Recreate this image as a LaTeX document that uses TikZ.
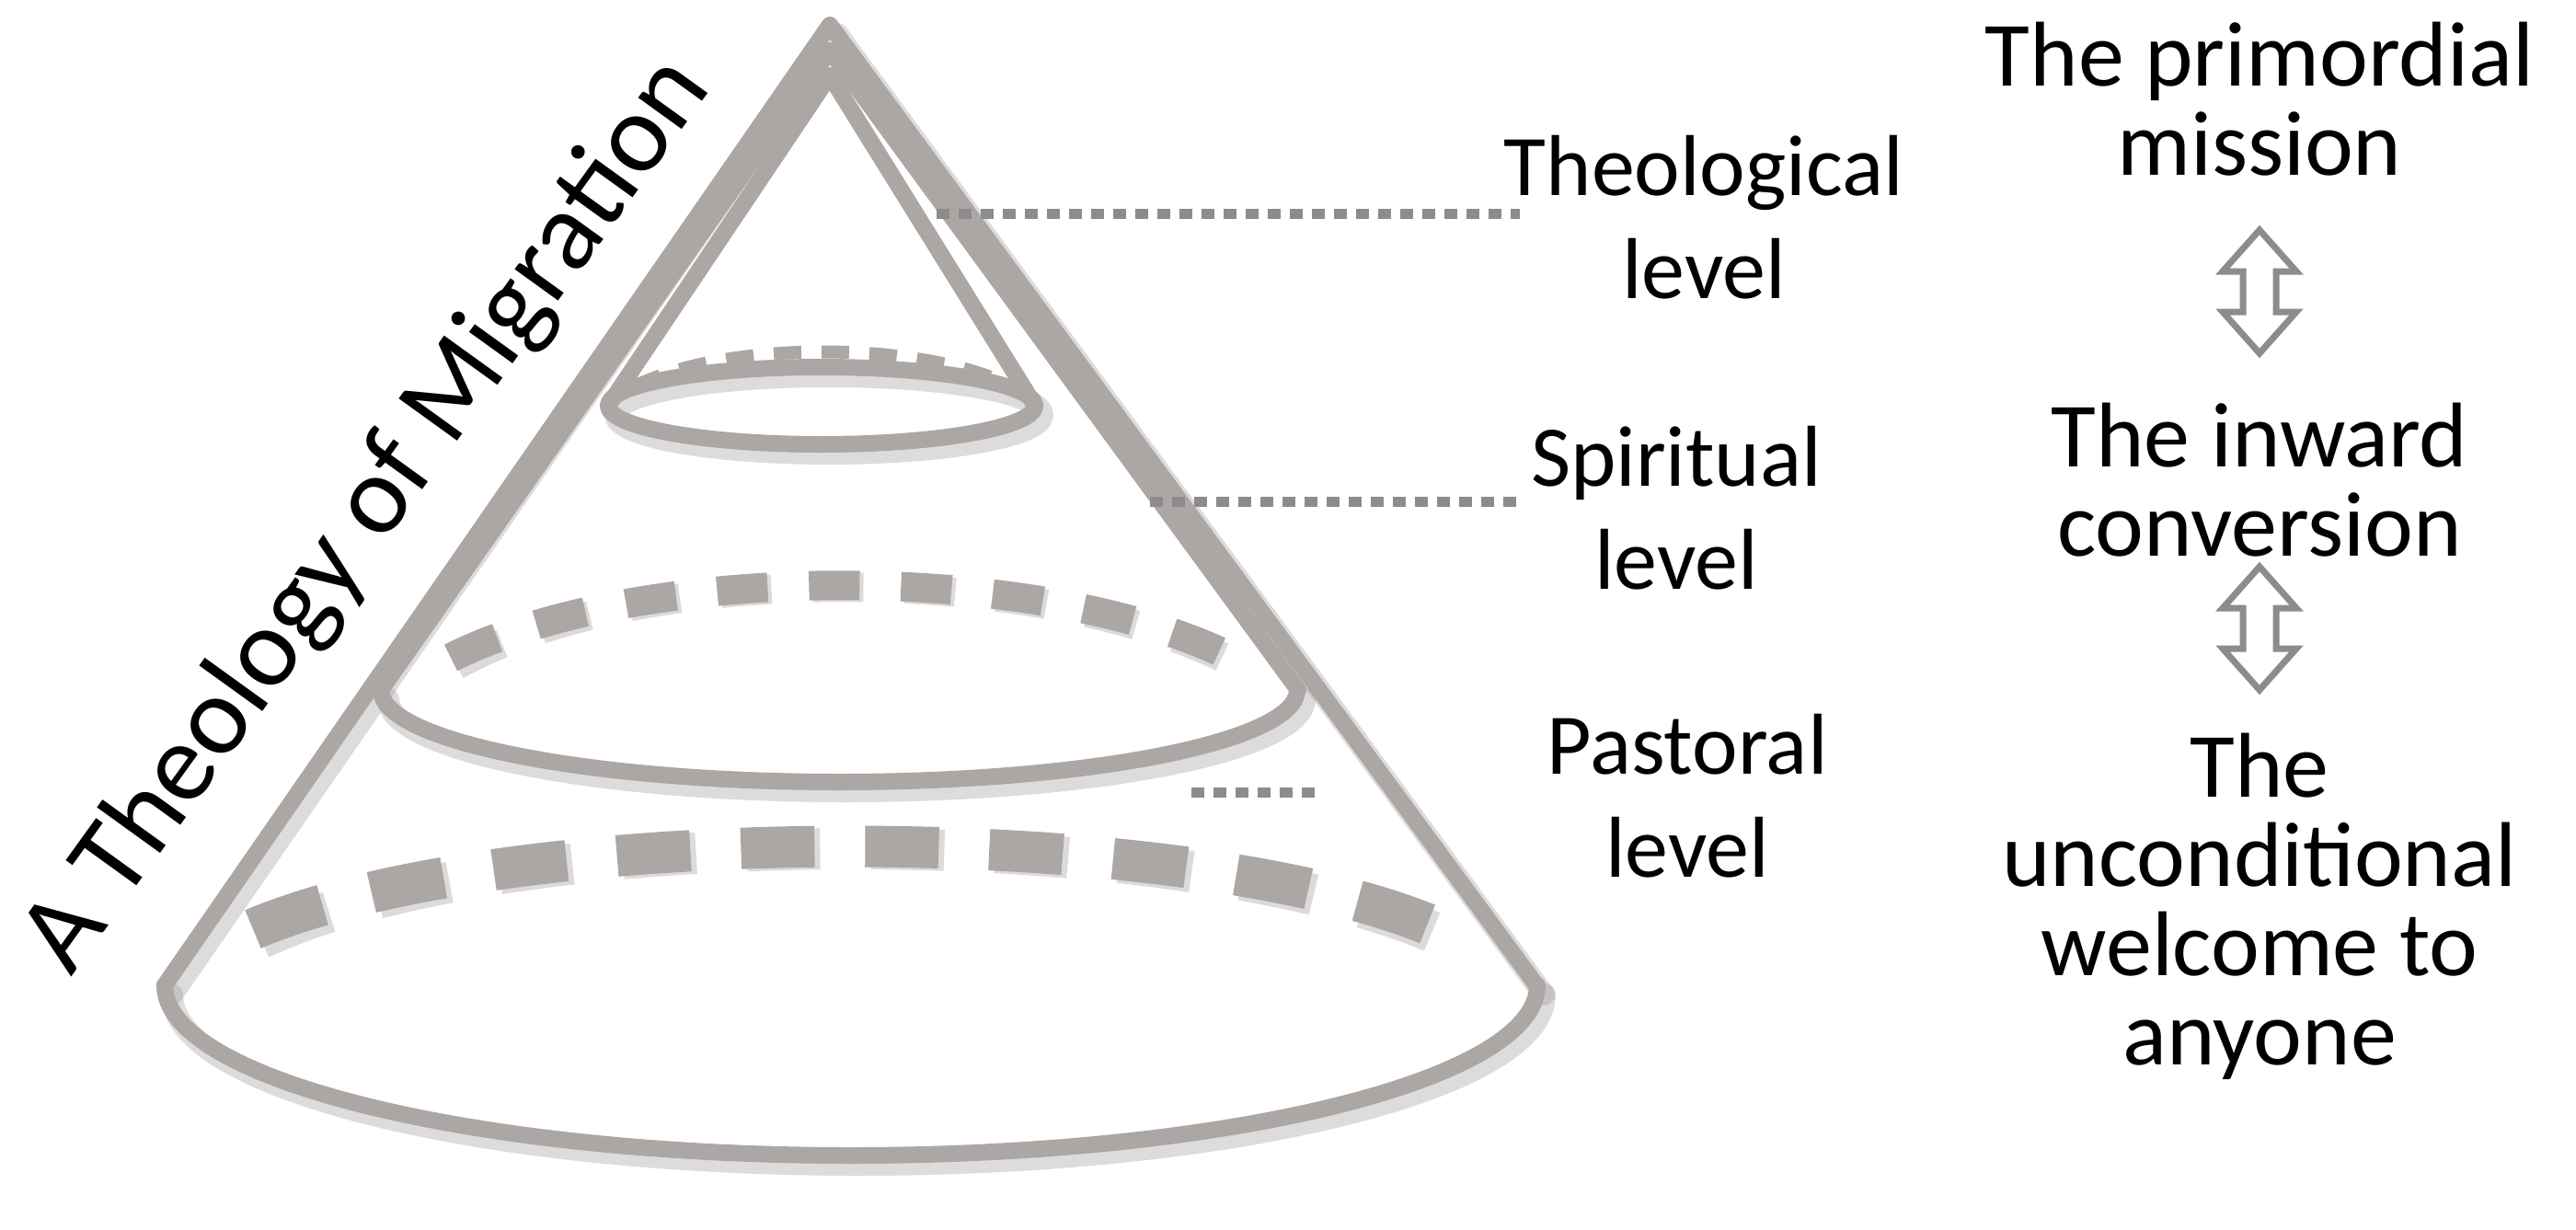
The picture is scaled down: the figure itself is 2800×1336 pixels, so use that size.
\documentclass[tikz,border=0pt]{standalone}
\usepackage{fontspec}
\setmainfont{Carlito}
\begin{document}
\begin{tikzpicture}[x=1pt,y=-1pt,
  cone/.style={draw=conegray,line width=18,line join=round,line cap=round},
  shad/.style={draw=black!45,opacity=0.3,line width=24,line join=round,line cap=round},
  lead/.style={draw=black!45,line width=11,dash pattern=on 14 off 10},
  lbl/.style={font=\fontsize{94}{112}\selectfont,align=center,text=black},
  rlbl/.style={font=\fontsize{100}{97}\selectfont,align=center,text=black},
  dbl/.style={draw=black!45,line width=7,fill=white,line join=miter}]
\definecolor{conegray}{RGB}{172,167,164}
\useasboundingbox (0,0) rectangle (2800,1336);
% shadows
\begin{scope}[shift={(8,10)}]
\draw[shad] (179,1071) -- (902,27) -- (1670,1071);
\draw[shad] (179,1071) arc[start angle=180,end angle=0,x radius=746,y radius=185];
\draw[shad] (414,750) arc[start angle=180,end angle=0,x radius=498,y radius=100];
\draw[shad] (893,441) ellipse [x radius=232,y radius=42];
\end{scope}
% back dashed arcs
\draw[draw=black!40,opacity=.35,line width=45,dash pattern=on 80 off 55] ([shift={(8,10)}]275,1010) .. controls (560,890) and (1290,890) .. ([shift={(8,10)}]1565,1010);
\draw[draw=conegray,line width=45,dash pattern=on 80 off 55] (275,1010) .. controls (560,890) and (1290,890) .. (1565,1010);
\draw[draw=black!40,opacity=.35,line width=32,dash pattern=on 55 off 45] ([shift={(6,8)}]490,715) .. controls (700,610) and (1130,610) .. ([shift={(6,8)}]1340,715);
\draw[draw=conegray,line width=32,dash pattern=on 55 off 45] (490,715) .. controls (700,610) and (1130,610) .. (1340,715);
\draw[draw=conegray,line width=14,dash pattern=on 30 off 22] (690,420) .. controls (790,370) and (1000,370) .. (1100,420);
% cones
\draw[cone] (179,1071) -- (902,27) -- (1670,1071);
\draw[cone] (414,750) -- (902,55) -- (1411,750);
\draw[cone] (661,441) -- (902,82) -- (1125,441);
\draw[cone] (179,1071) arc[start angle=180,end angle=0,x radius=746,y radius=185];
\draw[cone] (414,750) arc[start angle=180,end angle=0,x radius=498,y radius=100];
\draw[cone] (893,441) ellipse [x radius=232,y radius=42];
% leaders
\coordinate (l1a) at (1018,232); \coordinate (l1b) at (1652,232);
\coordinate (l2a) at (1250,545); \coordinate (l2b) at (1652,545);
\coordinate (l3a) at (1295,861); \coordinate (l3b) at (1429,861);
\draw[lead] (l1a) -- (l1b);
\draw[lead] (l2a) -- (l2b);
\draw[lead] (l3a) -- (l3b);
\node[lbl] (theo) at (1852,236) {Theological\\level};
\node[lbl] (spir) at (1822,552) {Spiritual\\level};
\node[lbl] (past) at (1834,865) {Pastoral\\level};
\node[rlbl] (prim) at (2456,108) {The primordial\\mission};
\node[rlbl] (inw) at (2456,522) {The inward\\conversion};
\node[rlbl] (unc) at (2456,985) {The\\unconditional\\welcome to\\anyone};
\node[font=\fontsize{122}{130}\selectfont,rotate=54.2] (title) at (400,560) {A Theology of Migration};
% double arrows
\foreach \y/\n in {250/a1,616/a2}{
\draw[dbl] (2456,\y) -- (2496,\y+45) -- (2474,\y+45) -- (2474,\y+89) -- (2496,\y+89) -- (2456,\y+134) -- (2416,\y+89) -- (2438,\y+89) -- (2438,\y+45) -- (2416,\y+45) -- cycle;
}
\end{tikzpicture}
\end{document}
